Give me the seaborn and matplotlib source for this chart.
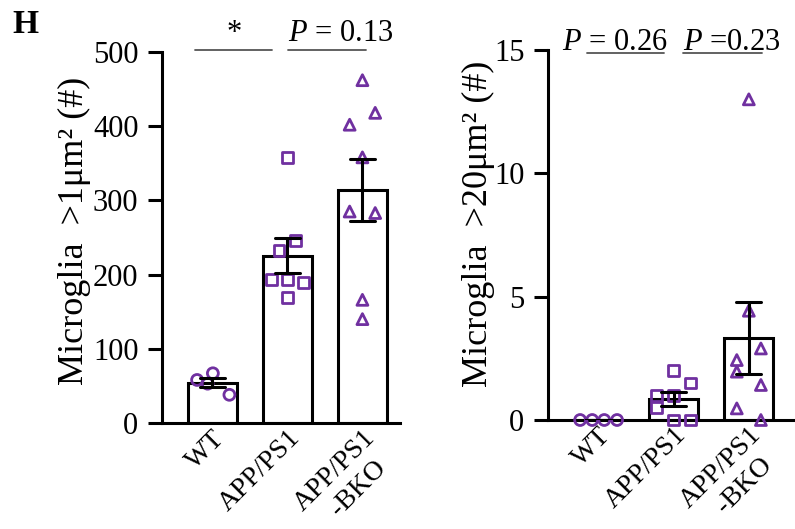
import numpy as np
import pandas as pd
import matplotlib
matplotlib.use("Agg")
import matplotlib.pyplot as plt
import seaborn as sns

# ---------------- data ----------------
groups = ["WT", "APP/PS1", "APP/PS1\n-BKO"]

left_wt = [58, 67, 53, 38]
left_app = [358, 246, 232, 193, 193, 189, 169]
left_bko = [462, 418, 402, 358, 285, 283, 166, 140]

right_wt = [0, 0, 0, 0]
right_app = [2.0, 1.5, 1.0, 1.0, 0.5, 0.0, 0.0]
right_bko = [13.0, 4.43, 2.9, 2.43, 1.96, 1.42, 0.47, 0.0]

left_ticks = [0, 100, 200, 300, 400, 500]
right_ticks = [0, 5, 10, 15]

left_ylabel = "Microglia  >1\u03bcm\u00b2 (#)"
right_ylabel = "Microglia  >20\u03bcm\u00b2 (#)"

left_sig = ["*", "$P$ = 0.13"]
right_sig = ["$P$ = 0.26", "$P$ =0.23"]

# ---------------- layout / style (positions, not data) ----------------
left_off = [[-0.20, 0.01, -0.06, 0.23],
            [0.0, 0.11, -0.11, -0.21, 0.0, 0.22, 0.0],
            [0.0, 0.17, -0.17, 0.0, -0.17, 0.17, 0.0, 0.0]]
right_off = [[-0.24, -0.08, 0.08, 0.25],
             [0.0, 0.22, -0.22, 0.0, -0.22, 0.22, 0.0],
             [0.0, 0.0, 0.16, -0.16, -0.16, 0.16, -0.16, 0.16]]
markers = ["o", "s", "^"]
purple = "#7030A0"
LW = 2.2

sns.set_style("ticks")
plt.rcParams["font.family"] = ["Liberation Serif", "DejaVu Serif"]
plt.rcParams["mathtext.fontset"] = "custom"
plt.rcParams["mathtext.rm"] = "Liberation Serif"
plt.rcParams["mathtext.it"] = "Liberation Serif:italic"
for k in ["text.color", "axes.labelcolor", "xtick.color", "ytick.color", "axes.edgecolor"]:
    plt.rcParams[k] = "black"
FS = 22
FS_X = 20
FS_LAB = 26
XPAD = 2
LINE2_OFFSET = (7.9, -21.8 - XPAD)   # points: second line of a rotated tick label

fig = plt.figure(figsize=(7.95, 5.29), dpi=100)
W, H = 795, 529


def px_axes(x0, x1, y_top, y_bot):
    return fig.add_axes([x0 / W, (H - y_bot) / H, (x1 - x0) / W, (y_bot - y_top) / H])


def panel(ax, vals, offs, ticks, ylabel, ylim, xlim, sig_lines, sig_y, lab_xy):
    df = pd.DataFrame({
        "group": np.concatenate([[g] * len(v) for g, v in zip(groups, vals)]),
        "value": np.concatenate(vals),
    })
    sns.barplot(data=df, x="group", y="value", order=groups, ax=ax,
                errorbar="se", capsize=0.33, width=0.65,
                color="white", edgecolor="black", linewidth=LW,
                err_kws={"color": "black", "linewidth": LW})
    for line in ax.lines:
        line.set_zorder(4)
    for i, (v, o) in enumerate(zip(vals, offs)):
        ax.scatter(np.array(o) + i, v, marker=markers[i], s=62,
                   facecolors="none", edgecolors=purple, linewidths=2.0,
                   zorder=3, clip_on=False)
    ax.set_xlim(*xlim)
    ax.set_ylim(*ylim)
    ax.set_yticks(ticks)
    ax.set_yticklabels([str(t) for t in ticks], fontsize=FS)
    ax.set_xticks(range(len(groups)))
    ax.set_xticklabels([g.split("\n")[0] for g in groups], fontsize=FS_X,
                       rotation=45, ha="right", rotation_mode="anchor")
    for i, g in enumerate(groups):
        for extra in g.split("\n")[1:]:
            ax.annotate(extra, xy=(i, 0), xycoords=ax.get_xaxis_transform(),
                        xytext=LINE2_OFFSET, textcoords="offset points",
                        rotation=45, ha="right", va="top", rotation_mode="anchor",
                        fontsize=FS_X, annotation_clip=False)
    ax.set_xlabel("")
    ax.set_ylabel(ylabel, fontsize=FS_LAB)
    ax.yaxis.set_label_coords(*lab_xy)
    sns.despine(ax=ax)
    for s in ["left", "bottom"]:
        ax.spines[s].set_linewidth(LW)
    ax.tick_params(axis="y", length=10, width=LW, direction="out", pad=7)
    ax.tick_params(axis="x", length=0, pad=XPAD)
    for (a, b) in sig_lines:
        ax.plot([a, b], [sig_y, sig_y], color="#555555", lw=1.3, clip_on=False)
    return df


axL = px_axes(162, 400, 52, 423)
panel(axL, [left_wt, left_app, left_bko], left_off, left_ticks, left_ylabel,
      (0, 500), (-0.667, 2.5), [(-0.23, 0.8), (1.01, 2.05)], 503, (-0.30, 0.517))
axL.text(0.29, 506, left_sig[0], ha="center", va="bottom", fontsize=FS, clip_on=False)
axL.text(1.01, 506, left_sig[1], ha="left", va="bottom", fontsize=FS, clip_on=False)

axR = px_axes(548, 795, 50, 420)
panel(axR, [right_wt, right_app, right_bko], right_off, right_ticks, right_ylabel,
      (0, 15), (-0.667, 2.613), [(-0.15, 0.88), (1.13, 2.18)], 14.86, (-0.215, 0.53))
axR.text(-0.48, 14.7, right_sig[0], ha="left", va="bottom", fontsize=FS, clip_on=False)
axR.text(1.13, 14.7, right_sig[1], ha="left", va="bottom", fontsize=FS, clip_on=False)

fig.text(12 / W, 1 - 9 / H, "H", fontsize=24, fontweight="bold", va="top", ha="left")

fig.savefig("out.png", dpi=100)
